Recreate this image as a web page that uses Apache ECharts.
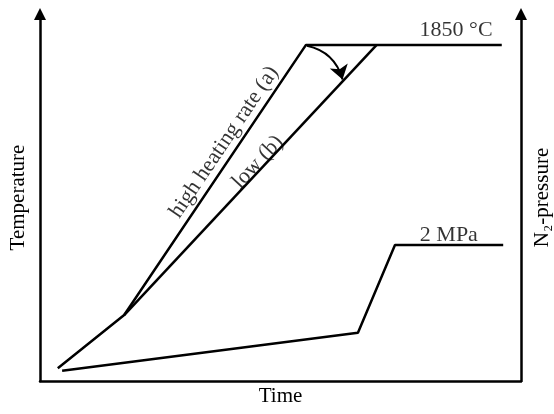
<!DOCTYPE html>
<html>
<head>
<meta charset="utf-8">
<script src="https://cdn.jsdelivr.net/npm/echarts@6/dist/echarts.min.js"></script>
<style>
  html, body { margin: 0; padding: 0; background: #fff; }
  #chart { width: 554px; height: 414px; }
</style>
</head>
<body>
<div id="chart"></div>
<script>
// Sintering schedule: temperature (two heating rates) and N2 gas pressure vs. time
const timeHigh = [3.7, 17.5, 55.3, 96.0];      // high heating rate (a), then hold
const tempHigh = [70, 363, 1850, 1850];
const timeLow = [17.5, 70.0];                   // low heating rate (b)
const tempLow = [363, 1850];
const timePressure = [4.6, 66.1, 73.8, 96.3];   // N2 pressure (MPa)
const pressure = [0.15, 0.71, 2, 2];

// Curved arrow from rate (a) to rate (b) near the hold temperature
const arrowFrom = [55.5, 1845];
const arrowTo = [62.9, 1660];

// Text annotations [time, value, text]
const tempNotes = [
  [38.3, 1315, 'high heating rate (a)'],
  [45.3, 1205, 'low (b)'],
  [86.5, 1932, '1850 °C']
];
const pressureNotes = [
  [85.0, 2.15, '2 MPa']
];

const zip = (xs, ys) => xs.map((x, i) => [x, ys[i]]);

const FONT = 'Liberation Serif';
const INK = '#000';
const lineW = 2.5;

const chart = echarts.init(document.getElementById('chart'), null, { renderer: 'canvas' });

const axisLineStyle = { color: INK, width: lineW };

const option = {
  animation: false,
  backgroundColor: '#fff',
  grid: { left: 40, right: 33, top: 14, bottom: 33, outerBoundsMode: 'none', containLabel: false },
  xAxis: {
    type: 'value', min: 0, max: 100,
    name: 'Time', nameLocation: 'middle', nameGap: 5,
    nameTextStyle: { fontFamily: FONT, fontSize: 21, color: INK, verticalAlign: 'top' },
    axisLine: { show: true, onZero: false, lineStyle: axisLineStyle },
    axisTick: { show: false }, axisLabel: { show: false }, splitLine: { show: false }
  },
  yAxis: [
    {
      type: 'value', min: 0, max: 2020, position: 'left',
      name: 'Temperature', nameLocation: 'middle', nameRotate: 90, nameGap: 11,
      nameTextStyle: { fontFamily: FONT, fontSize: 21, color: INK },
      axisLine: { show: true, onZero: false, lineStyle: axisLineStyle,
        symbol: ['none', 'triangle'], symbolSize: [12, 12] },
      axisTick: { show: false }, axisLabel: { show: false }, splitLine: { show: false }
    },
    {
      type: 'value', min: 0, max: 5.4, position: 'right',
      name: 'N₂-pressure', nameLocation: 'middle', nameRotate: 90, nameGap: 11,
      nameTextStyle: { fontFamily: FONT, fontSize: 21, color: INK, verticalAlign: 'top' },
      axisLine: { show: true, onZero: false, lineStyle: axisLineStyle,
        symbol: ['none', 'triangle'], symbolSize: [12, 12] },
      axisTick: { show: false }, axisLabel: { show: false }, splitLine: { show: false }
    }
  ],
  series: [
    {
      name: 'high heating rate (a)', type: 'line', yAxisIndex: 0,
      data: zip(timeHigh, tempHigh), symbol: 'none',
      lineStyle: { color: INK, width: lineW }
    },
    {
      name: 'low (b)', type: 'line', yAxisIndex: 0,
      data: zip(timeLow, tempLow), symbol: 'none',
      lineStyle: { color: INK, width: lineW }
    },
    {
      name: 'N2 pressure', type: 'line', yAxisIndex: 1,
      data: zip(timePressure, pressure), symbol: 'none',
      lineStyle: { color: INK, width: lineW }
    },
    {
      name: 'rate arrow', type: 'lines', coordinateSystem: 'cartesian2d', yAxisIndex: 0,
      symbol: ['none', 'arrow'], symbolSize: [10, 14],
      lineStyle: { color: INK, width: 2, curveness: 0.3, opacity: 1 },
      data: [{ coords: [arrowFrom, arrowTo] }]
    },
    {
      name: 'temperature notes', type: 'scatter', yAxisIndex: 0,
      symbolSize: 0, silent: true,
      data: tempNotes.map(n => ({
        value: [n[0], n[1]],
        label: { rotate: n[2] === 'high heating rate (a)' ? 56 : (n[2] === 'low (b)' ? 47 : 0) }
      })),
      label: {
        show: true, position: 'inside',
        formatter: p => tempNotes[p.dataIndex][2],
        fontFamily: FONT, fontSize: 22, color: INK
      }
    },
    {
      name: 'pressure notes', type: 'scatter', yAxisIndex: 1,
      symbolSize: 0, silent: true,
      data: pressureNotes.map(n => [n[0], n[1]]),
      label: {
        show: true, position: 'inside',
        formatter: p => pressureNotes[p.dataIndex][2],
        fontFamily: FONT, fontSize: 22, color: INK
      }
    }
  ]
};

chart.setOption(option);
</script>
</body>
</html>
